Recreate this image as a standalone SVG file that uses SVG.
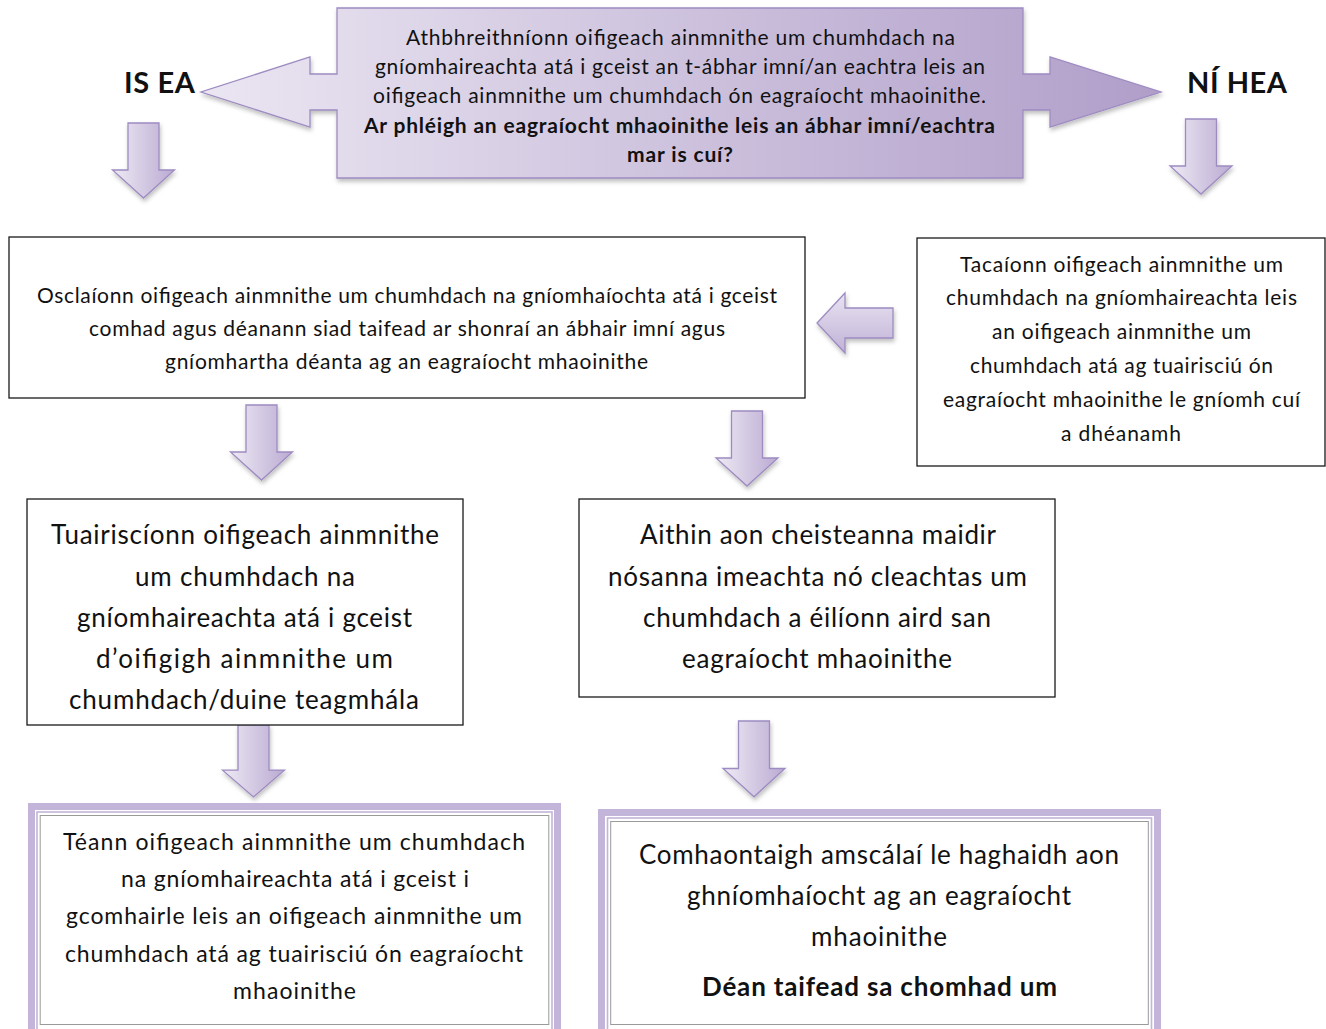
<svg xmlns="http://www.w3.org/2000/svg" width="1326" height="1029" viewBox="0 0 1326 1029">
<style>
text { font-family: Lato, "Noto Sans", "DejaVu Sans", sans-serif; fill: #111; text-anchor: middle; }
.b { font-weight: bold; }
.t20 { font-size: 21px; }
.t22 { font-size: 23px; }
.t25 { font-size: 26px; }
.lbl { font-size: 29px; font-weight: bold; }
.box { fill: #fff; stroke: #1a1a1a; stroke-width: 1.3; }
.arrow { stroke: #9d8bc1; stroke-width: 1.3; stroke-linejoin: miter; filter: url(#sh); }
.band { fill: none; stroke: #c3b4d9; stroke-width: 7; }
.thin { fill: none; stroke: #c3b4d9; stroke-width: 1.6; }
.gray { fill: #fff; stroke: #9a9a9a; stroke-width: 1; }
</style>
<defs>
  <linearGradient id="gTop" gradientUnits="userSpaceOnUse" x1="200" y1="0" x2="1161" y2="0">
    <stop offset="0" stop-color="#ebe6f2"/>
    <stop offset="1" stop-color="#b09ec9"/>
  </linearGradient>
  <linearGradient id="gDown" x1="0" y1="0" x2="1" y2="0">
    <stop offset="0" stop-color="#eeeaf4"/>
    <stop offset="1" stop-color="#baaad2"/>
  </linearGradient>
  <linearGradient id="gLeft" x1="0" y1="0" x2="0" y2="1">
    <stop offset="0" stop-color="#e9e3f1"/>
    <stop offset="1" stop-color="#c0b2d7"/>
  </linearGradient>
  <filter id="sh" x="-20%" y="-20%" width="150%" height="150%">
    <feDropShadow dx="1" dy="3" stdDeviation="2" flood-color="#000" flood-opacity="0.25"/>
  </filter>
  <path id="down" d="M-15.5,0 H15.5 V47 H31 L0,75 L-31,47 H-15.5 Z"/>
</defs>

<g id="connectors">
  <use href="#down" class="arrow" fill="url(#gDown)" transform="translate(143.5,123)"/>
  <use href="#down" class="arrow" fill="url(#gDown)" transform="translate(1201,119)"/>
  <use href="#down" class="arrow" fill="url(#gDown)" transform="translate(261.5,405)"/>
  <use href="#down" class="arrow" fill="url(#gDown)" transform="translate(747,411)"/>
  <use href="#down" class="arrow" fill="url(#gDown)" transform="translate(253.5,725) scale(1,0.96)"/>
  <use href="#down" class="arrow" fill="url(#gDown)" transform="translate(754,721) scale(1,1.01)"/>
  <path id="leftArrow" class="arrow" fill="url(#gLeft)" d="M893,308 V338 H845 V353 L817,323 L845,293 V308 Z"/>
</g>

<g id="node-question">
  <path class="arrow" fill="url(#gTop)" d="M337,8 H1023 V74 H1050 V57 L1161,92 L1050,127 V110 H1023 V178 H337 V110 H310 V127 L201,92 L310,57 V74 H337 Z"/>
  <text class="t20" x="680.5" y="45" textLength="549">Athbhreithníonn oifigeach ainmnithe um chumhdach na</text>
  <text class="t20" x="680" y="74" textLength="610">gníomhaireachta atá i gceist an t-ábhar imní/an eachtra leis an</text>
  <text class="t20" x="679.5" y="103" textLength="613">oifigeach ainmnithe um chumhdach ón eagraíocht mhaoinithe.</text>
  <text class="t20 b" x="679.5" y="133" textLength="631">Ar phléigh an eagraíocht mhaoinithe leis an ábhar imní/eachtra</text>
  <text class="t20 b" x="680" y="162" textLength="106">mar is cuí?</text>
</g>

<g id="label-yes">
  <text class="lbl" x="159.5" y="93" textLength="71">IS EA</text>
</g>
<g id="label-no">
  <text class="lbl" x="1237" y="93" textLength="100">NÍ HEA</text>
</g>

<g id="node-open-file">
  <rect class="box" x="9" y="237" width="796" height="161"/>
  <text class="t20" x="407" y="303" textLength="740">Osclaíonn oifigeach ainmnithe um chumhdach na gníomhaíochta atá i gceist</text>
  <text class="t20" x="407" y="336" textLength="636">comhad agus déanann siad taifead ar shonraí an ábhair imní agus</text>
  <text class="t20" x="406.5" y="369" textLength="483">gníomhartha déanta ag an eagraíocht mhaoinithe</text>
</g>

<g id="node-support">
  <rect class="box" x="917" y="238" width="408" height="228"/>
  <text class="t20" x="1121.5" y="272" textLength="323">Tacaíonn oifigeach ainmnithe um</text>
  <text class="t20" x="1121.5" y="305" textLength="351">chumhdach na gníomhaireachta leis</text>
  <text class="t20" x="1121.5" y="339" textLength="259">an oifigeach ainmnithe um</text>
  <text class="t20" x="1121.5" y="373" textLength="303">chumhdach atá ag tuairisciú ón</text>
  <text class="t20" x="1121.5" y="407" textLength="357">eagraíocht mhaoinithe le gníomh cuí</text>
  <text class="t20" x="1121" y="441" textLength="120">a dhéanamh</text>
</g>

<g id="node-report">
  <rect class="box" x="27" y="499" width="436" height="226"/>
  <text class="t25" x="245" y="544" textLength="388">Tuairiscíonn oifigeach ainmnithe</text>
  <text class="t25" x="245" y="586" textLength="220">um chumhdach na</text>
  <text class="t25" x="244.5" y="627" textLength="335">gníomhaireachta atá i gceist</text>
  <text class="t25" x="244.5" y="668" textLength="297">d’oifigigh ainmnithe um</text>
  <text class="t25" x="244" y="709" textLength="350">chumhdach/duine teagmhála</text>
</g>

<g id="node-identify">
  <rect class="box" x="579" y="499" width="476" height="198"/>
  <text class="t25" x="818" y="544" textLength="356">Aithin aon cheisteanna maidir</text>
  <text class="t25" x="817.5" y="586" textLength="419">nósanna imeachta nó cleachtas um</text>
  <text class="t25" x="817" y="627" textLength="348">chumhdach a éilíonn aird san</text>
  <text class="t25" x="817" y="668" textLength="270">eagraíocht mhaoinithe</text>
</g>

<g id="node-consult">
  <rect class="band" x="31.5" y="806.5" width="526" height="240"/>
  <rect class="thin" x="37" y="812" width="515" height="225"/>
  <rect class="gray" x="40.2" y="815.5" width="508.6" height="209"/>
  <text class="t22" x="294" y="850" textLength="462">Téann oifigeach ainmnithe um chumhdach</text>
  <text class="t22" x="295" y="887" textLength="348">na gníomhaireachta atá i gceist i</text>
  <text class="t22" x="294" y="924" textLength="456">gcomhairle leis an oifigeach ainmnithe um</text>
  <text class="t22" x="294" y="962" textLength="458">chumhdach atá ag tuairisciú ón eagraíocht</text>
  <text class="t22" x="294.5" y="999" textLength="123">mhaoinithe</text>
</g>

<g id="node-timescale">
  <rect class="band" x="601.5" y="812.5" width="556" height="240"/>
  <rect class="thin" x="607.5" y="818" width="544" height="225"/>
  <rect class="gray" x="610.7" y="821.5" width="537.6" height="203"/>
  <text class="t25" x="879" y="864" textLength="480">Comhaontaigh amscálaí le haghaidh aon</text>
  <text class="t25" x="879" y="905" textLength="384">ghníomhaíocht ag an eagraíocht</text>
  <text class="t25" x="879" y="946" textLength="136">mhaoinithe</text>
  <text class="t25 b" x="879.5" y="996" textLength="355">Déan taifead sa chomhad um</text>
</g>
</svg>
